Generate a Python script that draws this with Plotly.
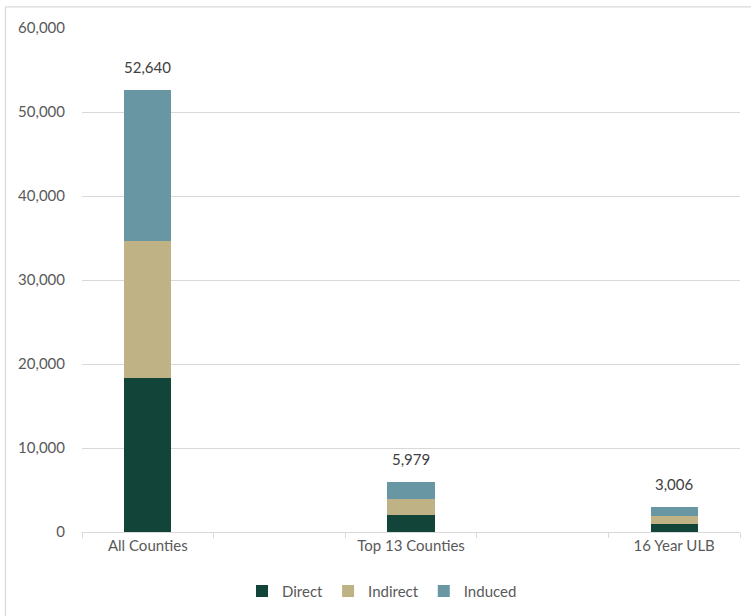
import plotly.graph_objects as go

categories = ["All Counties", " ", "Top 13 Counties", "  ", "16 Year ULB"]
direct = [18300, None, 2000, None, 1000]
indirect = [16400, None, 1900, None, 950]
induced = [17940, None, 2079, None, 1056]
totals = [52640, None, 5979, None, 3006]
series_names = ["Direct", "Indirect", "Induced"]
colors = ["#12443A", "#BFB284", "#6896A2"]
y_ticks = [0, 10000, 20000, 30000, 40000, 50000, 60000]

FONT = "Lato"
FS = 15

fig = go.Figure()
for name, vals, col in zip(series_names, [direct, indirect, induced], colors):
    fig.add_trace(go.Bar(x=categories, y=vals, name=name, marker_color=col,
                         marker_line_width=0, width=0.36))

for c, t in zip(categories, totals):
    if t is not None:
        fig.add_annotation(x=c, y=t, text=f"{t:,}", showarrow=False,
                           yanchor="bottom", yshift=12,
                           font=dict(size=FS, color="#404040", family=FONT))

L, R = 82, 740
T, B = 27.7, 531.7
W, H = R - L, B - T

def px(x):
    return (x - L) / W

def py(y):
    return (B - y) / H

fig.add_shape(type="line", xref="paper", yref="paper",
              x0=px(5.5), x1=px(751), y0=py(6.5), y1=py(6.5),
              line=dict(color="#D9D9D9", width=1.2))
fig.add_shape(type="line", xref="paper", yref="paper",
              x0=px(5.5), x1=px(5.5), y0=py(6.5), y1=py(616),
              line=dict(color="#D9D9D9", width=1.2))

fig.update_layout(
    width=751, height=616,
    margin=dict(l=L, r=751 - R, t=T, b=616 - B, autoexpand=False),
    barmode="stack",
    bargap=0.64,
    paper_bgcolor="white", plot_bgcolor="white",
    font=dict(family=FONT, size=FS, color="#595959"),
    showlegend=True,
    legend=dict(orientation="h", x=px(382), xanchor="center",
                y=py(591), yanchor="middle",
                font=dict(size=FS, color="#595959"),
                itemwidth=30, traceorder="normal"),
    xaxis=dict(type="category", categoryorder="array", categoryarray=categories,
               automargin=False,
               showline=True, linecolor="#D9D9D9", linewidth=1,
               ticks="outside", tickson="boundaries", ticklen=5,
               tickcolor="#D9D9D9", showgrid=False, zeroline=False,
               tickfont=dict(size=FS, color="#595959")),
    yaxis=dict(range=[0, 60000], tickvals=y_ticks, automargin=False,
               tickformat=",d", showgrid=True, gridcolor="#D9D9D9",
               gridwidth=1, zeroline=False, showline=False, ticks="",
               ticklabelstandoff=16,
               tickfont=dict(size=FS, color="#595959")),
)

fig.write_html("out.html", config={"displayModeBar": False},
               post_script="document.body.style.margin='0';document.body.style.overflow='hidden';")
